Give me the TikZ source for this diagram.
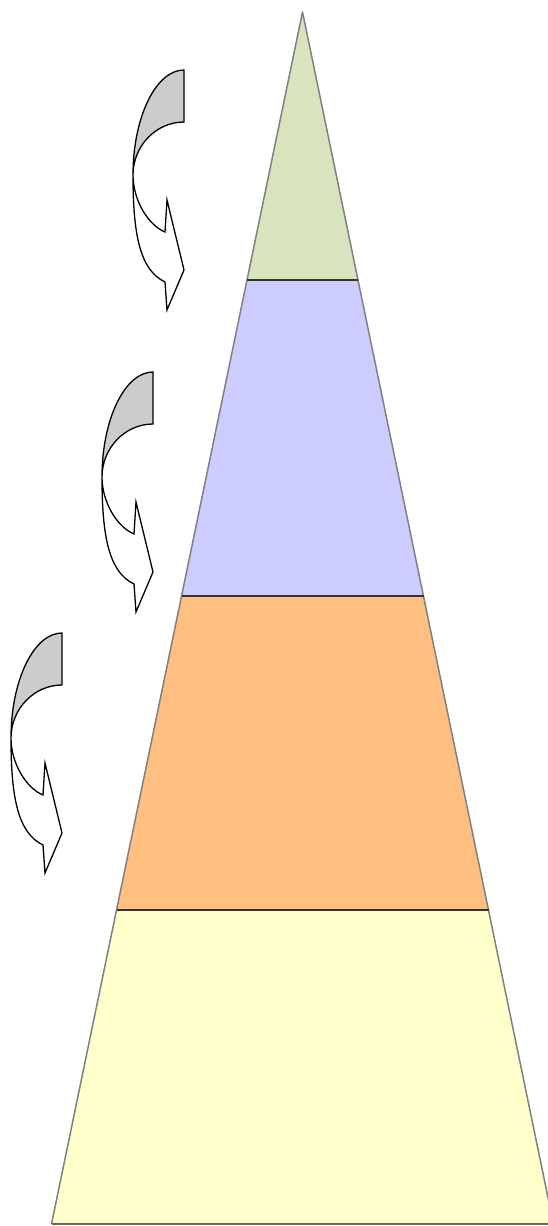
\documentclass[tikz,border=0pt]{standalone}
\usepackage{tikz}
\usetikzlibrary{arrows.meta}

\definecolor{topgreen}{RGB}{215,228,189}
\definecolor{midblue}{RGB}{204,204,255}
\definecolor{midorange}{RGB}{255,191,128}
\definecolor{baseyellow}{RGB}{255,255,204}
\definecolor{backgray}{RGB}{204,204,204}
\definecolor{edgegray}{RGB}{128,128,128}

\tikzset{
  layer/.style={draw=edgegray,line width=1.5pt,line join=round},
  level/.style={draw=black!80,line width=1.5pt},
  bendarrow/.style={draw=black,line width=1.3pt,line join=miter}
}

\begin{document}
\begin{tikzpicture}[x=1pt,y=-1pt]
\useasboundingbox (0,0) rectangle (548,1226);
\clip (0,0) rectangle (548,1226);

% pyramid layers
\coordinate (apex) at (302.5,12);
\fill[topgreen] (apex) -- (358,280) -- (247,280) -- cycle;
\fill[midblue] (247,280) -- (358,280) -- (423.5,596) -- (181.5,596) -- cycle;
\fill[midorange] (181.5,596) -- (423.5,596) -- (488.5,910) -- (116.5,910) -- cycle;
\fill[baseyellow] (116.5,910) -- (488.5,910) -- (553.5,1224) -- (51.5,1224) -- cycle;
\draw[layer] (51.5,1224) -- (apex) -- (553.5,1224);
\draw[level] (247,280) -- (358,280);
\draw[level] (181.5,596) -- (423.5,596);
\draw[level] (116.5,910) -- (488.5,910);
\draw[level,draw=black!60] (51.5,1224) -- (553.5,1224);

% curved arrows beside the layers
\foreach \ax/\ay in {184/70, 153/372, 62/633}{
  \begin{scope}[shift={(\ax,\ay)}]
    \filldraw[bendarrow,fill=backgray] (0,0) .. controls (-28,0) and (-51,47) .. (-51,105)
      .. controls (-51,76) and (-28,52) .. (0,52) -- cycle;
    \filldraw[bendarrow,fill=white] (-51,105) .. controls (-51,130) and (-36,155) .. (-19,162)
      -- (-17,130) -- (0,200) -- (-17,240) -- (-19,212)
      .. controls (-44,200) and (-51,165) .. (-51,105) -- cycle;
  \end{scope}
}
\end{tikzpicture}
\end{document}
